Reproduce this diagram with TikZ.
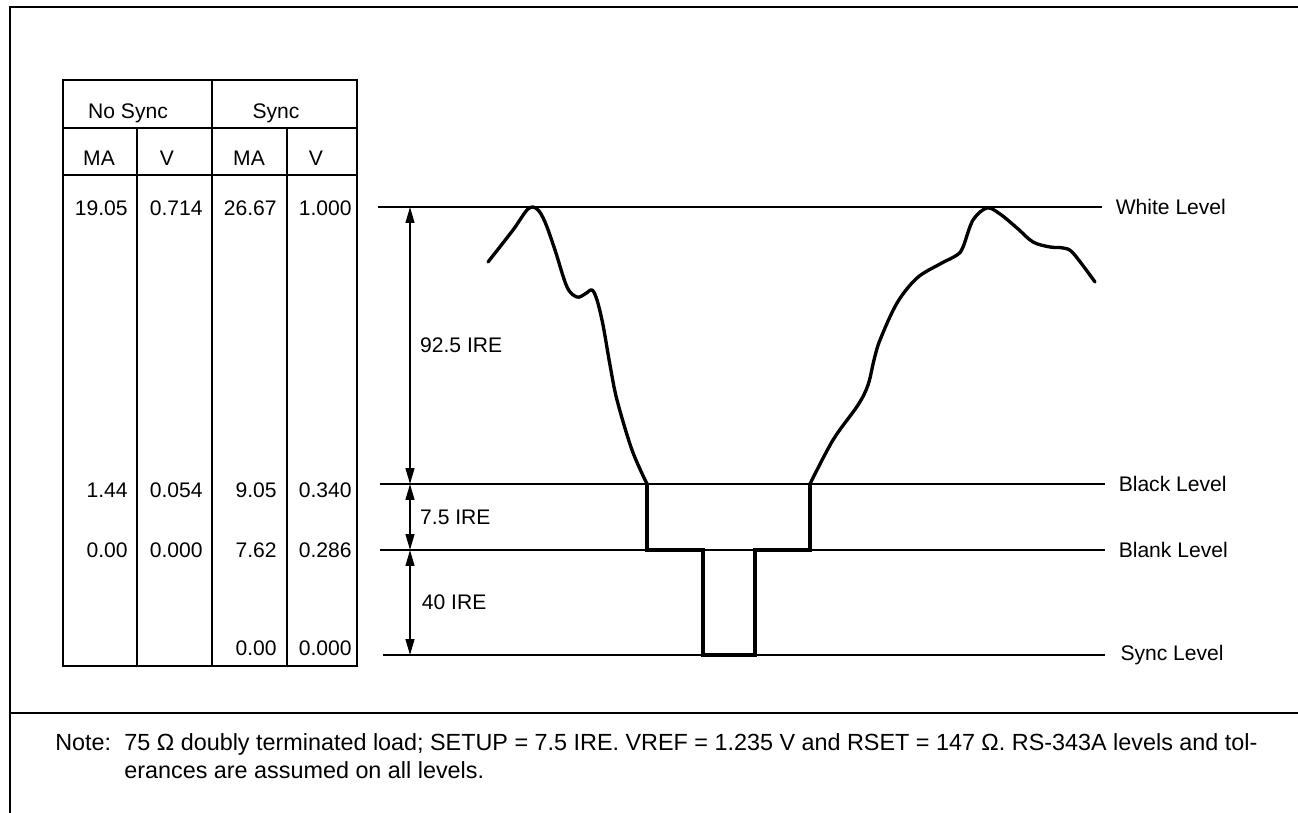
\documentclass[tikz,border=0pt]{standalone}
\usepackage{fontspec}
\setmainfont{Liberation Sans}
\usetikzlibrary{arrows.meta}

\begin{document}
\begin{tikzpicture}[x=0.02cm,y=-0.02cm,font=\fontsize{12}{14}\selectfont,
  heavy/.style={line width=1.6pt},
  rule/.style={line width=1pt},
  level/.style={line width=1pt},
  wave/.style={line width=1.9pt,line cap=round,line join=round},
  dim/.style={line width=0.9pt,{Triangle[length=9pt,width=5pt]}-{Triangle[length=9pt,width=5pt]}},
  num/.style={anchor=east,inner sep=0pt},
  notetxt/.style={anchor=base west,inner sep=0pt,font=\fontsize{13.3}{16}\selectfont}]
\useasboundingbox (0,0) rectangle (1298,813);
% frame and note separator
\draw[heavy] (10,813) -- (10,7) -- (1298,7);
\draw[heavy] (10,713) -- (1298,713);
% table of levels
\draw[heavy] (63,80) rectangle (357,666);
\draw[heavy] (212,80) -- (212,666);
\draw[heavy] (63,175) -- (357,175);
\draw[rule] (63,128) -- (357,128);
\foreach \cx in {137,287} \draw[rule] (\cx,128) -- (\cx,666);
\node (nosync) at (128,113) {No Sync};
\node (sync) at (276,113) {Sync};
\foreach \cx/\t [count=\i] in {99/MA,167/V,249/MA,316/V}
  \node (hd\i) at (\cx,158) {\t};
\foreach \v/\cx/\ry [count=\i] in {19.05/128/208,0.714/203/208,26.67/277/208,1.000/352/208,
    1.44/128/490,0.054/203/490,9.05/277/490,0.340/352/490,
    0.00/128/550,0.000/203/550,7.62/277/550,0.286/352/550,
    0.00/277/648,0.000/352/648}
  \node[num] (val\i) at (\cx,\ry) {\v};
% level lines
\coordinate (wl) at (378,207); \coordinate (wr) at (1102,207);
\coordinate (kl) at (380,484); \coordinate (kr) at (1105,484);
\coordinate (bl) at (380,550); \coordinate (br) at (1105,550);
\coordinate (sl) at (383,655); \coordinate (sr) at (1105,655);
\draw[level] (wl) -- (wr) node[right=4pt] (white) {White Level};
\draw[level] (kl) -- (kr) node[right=4pt] (black) {Black Level};
\draw[level] (bl) -- (br) node[right=4pt] (blank) {Blank Level};
\draw[level] (sl) -- (sr) node[right=5pt] (synclv) {Sync Level};
% IRE dimensions
\coordinate (dx) at (410,0);
\draw[dim] (dx |- wl) -- (dx |- kl) node[midway,right=2pt] (ire1) {92.5 IRE};
\draw[dim] (dx |- kl) -- (dx |- bl) node[midway,right=2pt] (ire2) {7.5 IRE};
\draw[dim] (dx |- bl) -- (dx |- sl) node[midway,right=3pt] (ire3) {40 IRE};
% video signal
\draw[wave] plot[smooth,tension=0.55] coordinates {(488,262) (513,230) (528,209) (537,209) (545,222)
  (555,250) (567,287) (577,297) (585,294) (592,290) (597,300) (603,325) (610,365) (617,400) (632,450) (647,484)};
\draw[wave,line join=miter] (647,484) -- (647,550) -- (703,550) -- (703,655) -- (755,655) -- (755,550) -- (810,550) -- (810,484);
\draw[wave] plot[smooth,tension=0.55] coordinates {(810,484) (833,440) (858,405) (868,385) (874,360) (880,340)
  (897,303) (917,278) (940,264) (957,255) (963,247) (973,220) (987,208) (1000,214) (1017,228) (1033,242)
  (1050,247) (1063,248) (1073,253) (1095,282)};
% note
\node[notetxt] (notehd) at (55,750) {Note:};
\node[notetxt] (note1) at (124,750) {75 Ω doubly terminated load; SETUP = 7.5 IRE. VREF = 1.235 V and RSET = 147 Ω. RS-343A levels and tol-};
\node[notetxt] (note2) at (124,778) {erances are assumed on all levels.};
\end{tikzpicture}
\end{document}
